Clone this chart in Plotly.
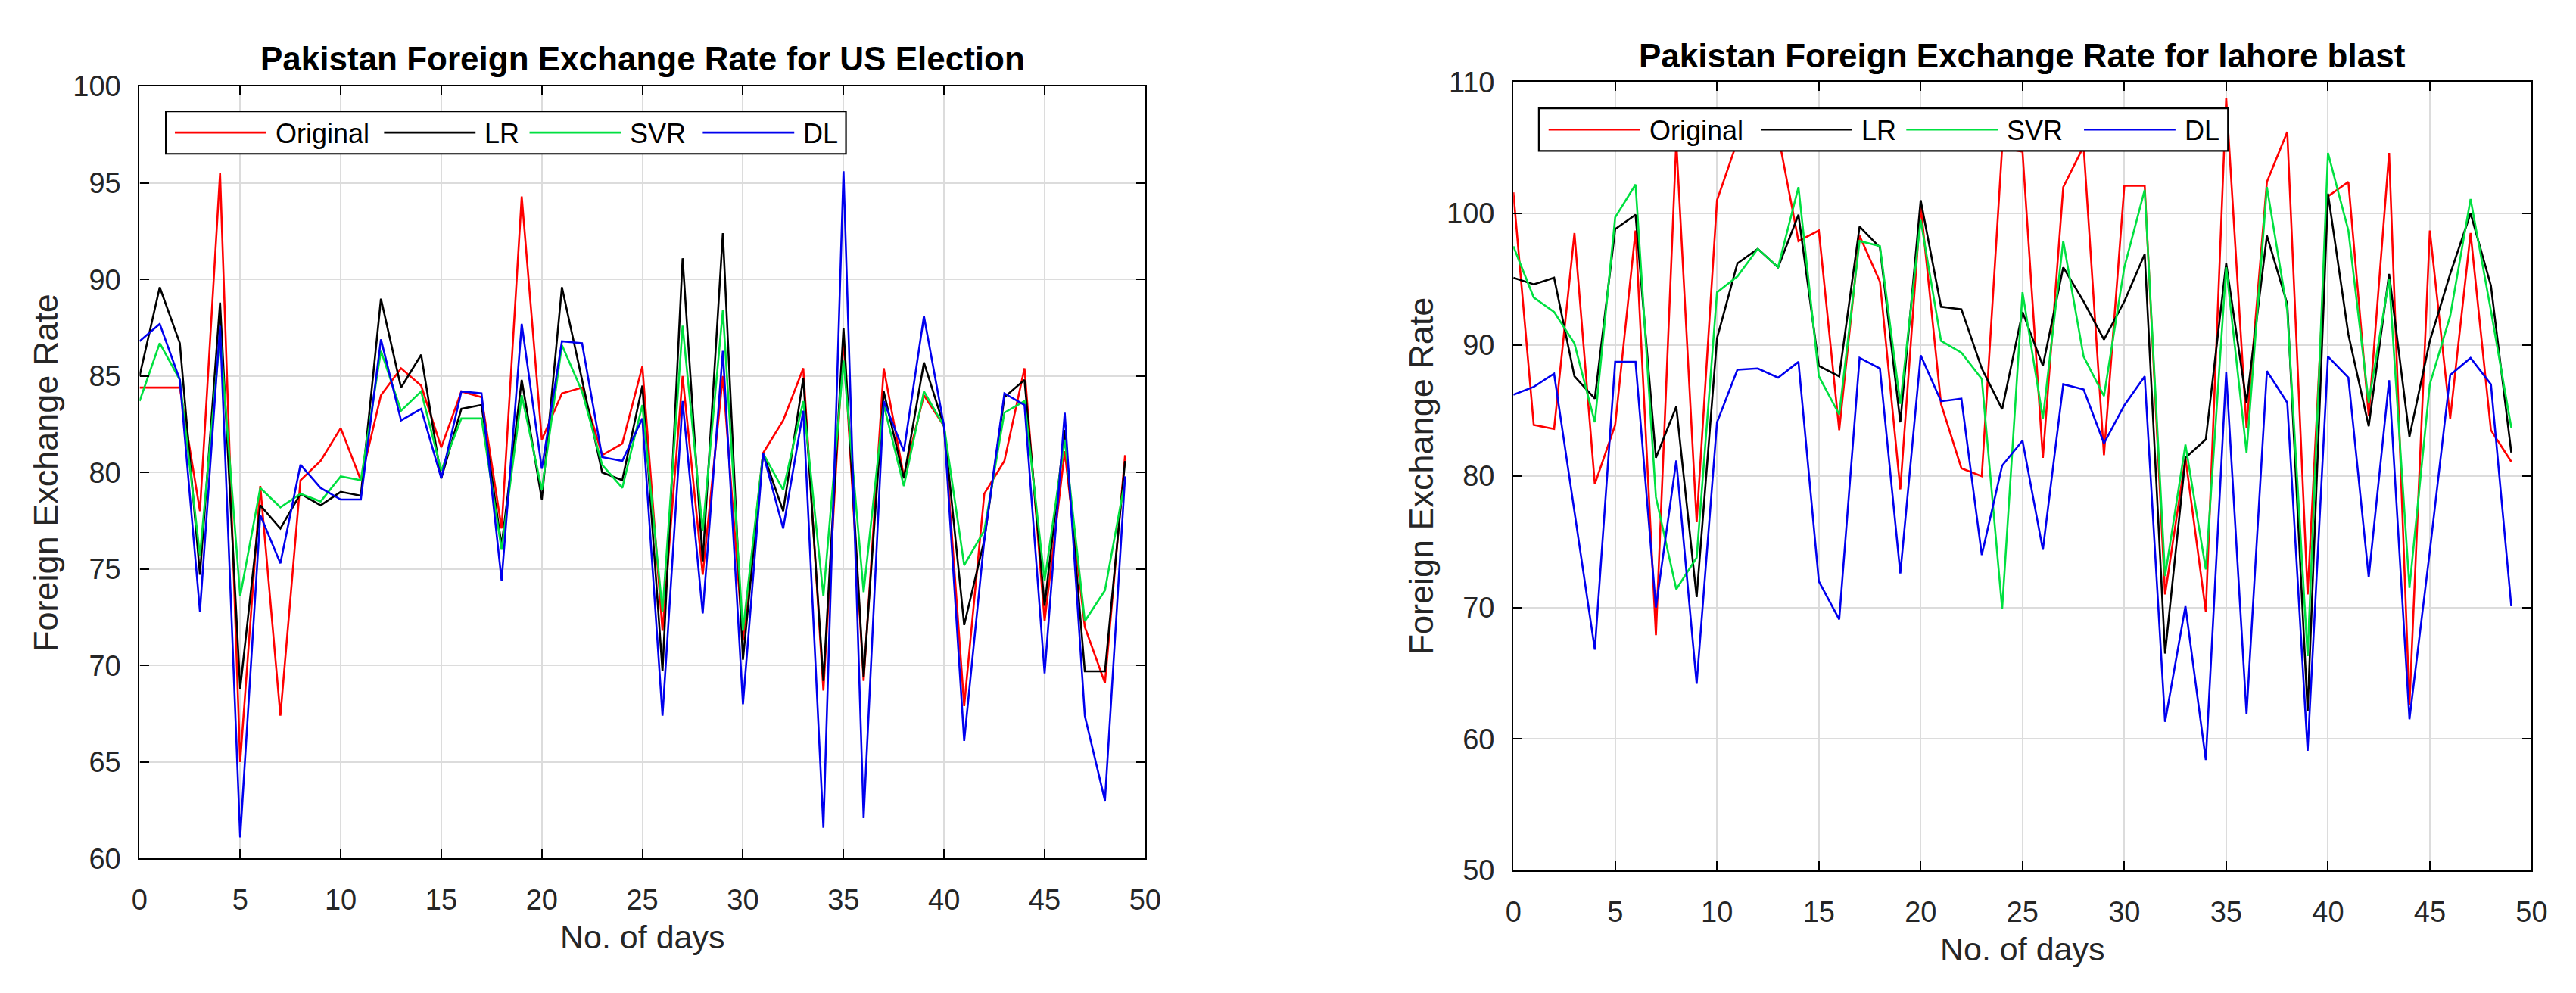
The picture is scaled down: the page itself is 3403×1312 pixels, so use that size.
import plotly.graph_objects as go

# ---------------- data ----------------
days = list(range(50))

us_original = [84.4, 84.4, 84.4, 78.0, 95.5, 65.0, 79.3, 67.4, 79.6, 80.6,
               82.3, 79.6, 84.0, 85.4, 84.5, 81.3, 84.2, 83.9, 77.1, 94.3,
               81.7, 84.1, 84.4, 80.9, 81.5, 85.5, 71.8, 85.0, 74.7, 85.0,
               71.3, 81.0, 82.7, 85.4, 68.7, 87.0, 69.2, 85.4, 79.8, 84.0,
               82.4, 67.9, 78.9, 80.6, 85.4, 72.3, 81.1, 72.0, 69.1, 80.9]
us_lr = [85.0, 89.6, 86.7, 74.7, 88.8, 68.8, 78.3, 77.1, 78.9, 78.3,
         79.0, 78.8, 89.0, 84.4, 86.1, 79.7, 83.3, 83.5, 76.2, 84.8,
         78.6, 89.6, 84.8, 80.0, 79.6, 84.5, 69.7, 91.1, 75.4, 92.4,
         70.3, 81.0, 78.0, 84.9, 69.2, 87.5, 69.4, 84.2, 79.7, 85.7,
         82.4, 72.1, 76.5, 83.9, 84.8, 73.1, 82.2, 69.7, 69.7, 80.6]
us_svr = [83.7, 86.7, 84.8, 75.7, 87.1, 73.6, 79.2, 78.2, 78.9, 78.5,
          79.8, 79.6, 86.3, 83.2, 84.2, 80.1, 82.8, 82.8, 76.0, 84.0,
          79.1, 86.6, 84.2, 80.4, 79.2, 83.5, 72.8, 87.6, 77.0, 88.4,
          71.8, 81.0, 79.1, 83.7, 73.6, 85.8, 73.8, 83.5, 79.3, 84.2,
          82.4, 75.2, 77.0, 83.1, 83.7, 74.4, 81.7, 72.3, 73.9, 79.6]
us_dl = [86.8, 87.7, 84.8, 72.8, 87.6, 61.1, 77.8, 75.3, 80.4, 79.2,
         78.6, 78.6, 86.9, 82.7, 83.3, 79.7, 84.2, 84.1, 74.4, 87.7,
         80.2, 86.8, 86.7, 80.8, 80.6, 82.8, 67.4, 83.7, 72.7, 86.3,
         68.0, 81.0, 77.1, 83.2, 61.6, 95.6, 62.1, 83.7, 81.1, 88.1,
         82.4, 66.1, 76.5, 84.1, 83.5, 69.6, 83.1, 67.4, 63.0, 79.8]

lb_original = [101.6, 83.9, 83.6, 98.5, 79.4, 83.9, 98.7, 67.9, 105.5, 76.5,
               101.0, 105.5, 107.0, 106.0, 97.9, 98.7, 83.5, 98.3, 94.8, 79.0,
               100.6, 85.5, 80.6, 80.0, 105.0, 104.7, 81.4, 102.0, 105.1, 81.6,
               102.1, 102.1, 71.0, 81.4, 69.7, 108.8, 83.7, 102.4, 106.2, 71.0,
               101.3, 102.4, 84.6, 104.6, 62.6, 98.7, 84.4, 98.5, 83.5, 81.1]
lb_lr = [95.1, 94.6, 95.1, 87.6, 85.9, 98.8, 99.9, 81.4, 85.3, 70.8,
         90.5, 96.2, 97.3, 95.9, 99.9, 88.4, 87.6, 99.0, 97.4, 84.1,
         101.0, 92.9, 92.7, 88.2, 85.1, 92.5, 88.4, 95.9, 93.3, 90.4,
         93.3, 96.9, 66.5, 81.4, 82.8, 96.2, 85.6, 98.3, 93.1, 62.1,
         101.5, 90.8, 83.8, 95.4, 83.0, 90.3, 95.4, 100.0, 94.5, 81.8]
lb_svr = [97.5, 93.6, 92.5, 90.1, 84.1, 99.7, 102.2, 78.4, 71.4, 73.8,
          94.0, 95.2, 97.3, 95.9, 102.0, 87.6, 84.7, 97.9, 97.5, 85.5,
          99.5, 90.3, 89.4, 87.4, 69.9, 94.0, 84.4, 97.9, 89.1, 86.1,
          95.9, 101.8, 72.4, 82.4, 72.9, 95.9, 81.8, 102.0, 92.6, 66.3,
          104.6, 98.7, 85.6, 95.0, 71.5, 87.0, 92.2, 101.1, 92.6, 83.7]
lb_dl = [86.2, 86.8, 87.8, 77.3, 66.8, 88.7, 88.7, 70.0, 81.2, 64.2,
         84.1, 88.1, 88.2, 87.5, 88.7, 72.0, 69.1, 89.0, 88.2, 72.6,
         89.2, 85.7, 85.9, 74.0, 80.8, 82.7, 74.4, 87.0, 86.6, 82.5,
         85.4, 87.6, 61.3, 70.1, 58.4, 87.9, 61.9, 88.0, 85.6, 59.1,
         89.1, 87.5, 72.3, 87.3, 61.5, 74.3, 87.7, 89.0, 87.0, 70.1]

series_names = ["Original", "LR", "SVR", "DL"]
series_colors = ["#ff0000", "#000000", "#00e040", "#0000ee"]

titles = ["Pakistan Foreign Exchange Rate for US Election",
          "Pakistan Foreign Exchange Rate for lahore blast"]
x_title = "No. of days"
y_title = "Foreign Exchange Rate"

x_ticks = [0, 5, 10, 15, 20, 25, 30, 35, 40, 45, 50]
y_ticks_us = [60, 65, 70, 75, 80, 85, 90, 95, 100]
y_ticks_lb = [50, 60, 70, 80, 90, 100, 110]

# ---------------- layout geometry (pixels) ----------------
W, H = 3403, 1312
FONT = "Liberation Sans, Arial, Helvetica, sans-serif"


def px_x(v):
    return v / W


def px_y(v):
    return 1 - v / H


panels = [
    dict(ax=(167, 1508, 88, 1142), leg=(202, 122, 1109, 180),
         items=[12, 291, 485, 716], yr=[60, 100], yt=y_ticks_us,
         data=[us_original, us_lr, us_svr, us_dl], title_y=50, ytitle_x=42),
    dict(ax=(1999, 3357, 82, 1158), leg=(2033, 118, 2952, 176),
         items=[13, 296, 490, 727], yr=[50, 110], yt=y_ticks_lb,
         data=[lb_original, lb_lr, lb_svr, lb_dl], title_y=46, ytitle_x=1876),
]

fig = go.Figure()
shapes = []
annotations = []

for i, p in enumerate(panels):
    xa = "x" if i == 0 else "x2"
    ya = "y" if i == 0 else "y2"
    for name, color, vals in zip(series_names, series_colors, p["data"]):
        fig.add_trace(go.Scatter(x=days, y=vals, mode="lines", name=name,
                                 line=dict(color=color, width=2.6),
                                 xaxis=xa, yaxis=ya, showlegend=False))
    x0, x1, y0, y1 = p["ax"]
    axis_common = dict(showline=True, linecolor="black", linewidth=2.2,
                       mirror="ticks", ticks="inside", ticklen=12,
                       tickwidth=2, tickcolor="black",
                       showgrid=True, gridcolor="#dcdcdc", gridwidth=1.5,
                       zeroline=False,
                       tickfont=dict(family=FONT, size=38, color="#262626"))
    xkey = "xaxis" if i == 0 else "xaxis2"
    ykey = "yaxis" if i == 0 else "yaxis2"
    fig.layout[xkey] = dict(domain=[px_x(x0), px_x(x1)], range=[0, 50],
                            tickvals=x_ticks, anchor=ya,
                            ticklabelstandoff=20, **axis_common)
    fig.layout[ykey] = dict(domain=[px_y(y1), px_y(y0)], range=p["yr"],
                            tickvals=p["yt"], anchor=xa,
                            ticklabelstandoff=15, **axis_common)
    cx = (x0 + x1) / 2
    # title
    annotations.append(dict(text="<b>" + titles[i] + "</b>", xref="paper", yref="paper",
                            x=px_x(cx), y=px_y(p["title_y"]), xanchor="center",
                            yanchor="middle", showarrow=False,
                            font=dict(family=FONT, size=44, color="black")))
    # axis titles
    annotations.append(dict(text=x_title, xref="paper", yref="paper",
                            x=px_x(cx), y=px_y(y1 + 107), xanchor="center",
                            yanchor="middle", showarrow=False,
                            font=dict(family=FONT, size=43, color="#262626")))
    annotations.append(dict(text=y_title, xref="paper", yref="paper",
                            x=px_x(p["ytitle_x"]), y=px_y((y0 + y1) / 2),
                            xanchor="center", yanchor="middle", showarrow=False,
                            textangle=-90,
                            font=dict(family=FONT, size=45, color="#262626")))
    # custom legend
    lx0, ly0, lx1, ly1 = p["leg"]
    shapes.append(dict(type="rect", xref="paper", yref="paper",
                       x0=px_x(lx0), x1=px_x(lx1), y0=px_y(ly1), y1=px_y(ly0),
                       fillcolor="white", line=dict(color="black", width=2.2),
                       layer="above"))
    ly = (ly0 + ly1) / 2
    for off, name, color in zip(p["items"], series_names, series_colors):
        sx = lx0 + off
        shapes.append(dict(type="line", xref="paper", yref="paper",
                           x0=px_x(sx), x1=px_x(sx + 122), y0=px_y(ly), y1=px_y(ly),
                           line=dict(color=color, width=2.6), layer="above"))
        annotations.append(dict(text=name, xref="paper", yref="paper",
                                x=px_x(sx + 132), y=px_y(ly + 1), xanchor="left",
                                yanchor="middle", showarrow=False,
                                font=dict(family=FONT, size=36, color="black")))

fig.update_layout(width=W, height=H, margin=dict(l=0, r=0, t=0, b=0),
                  paper_bgcolor="white", plot_bgcolor="white",
                  shapes=shapes, annotations=annotations, showlegend=False)

fig.write_html("out.html")
